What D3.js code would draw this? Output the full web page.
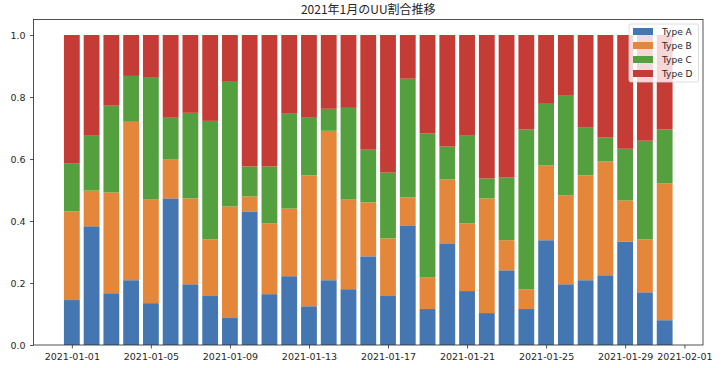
<!DOCTYPE html>
<html>
<head>
<meta charset="utf-8">
<script src="https://cdn.jsdelivr.net/npm/d3@7"></script>
<style>
  body { margin: 0; background: #fff; }
  svg text { font-family: "Noto Sans CJK JP", "DejaVu Sans", sans-serif; fill: #262626; }
  svg .axis text, svg .legend text { font-family: "DejaVu Sans", sans-serif; }
</style>
</head>
<body>
<svg id="chart"></svg>
<script>
/** * * * CONSTANTS * * * */
const width = 722;
const height = 368;
const margin = { top: 19.5, bottom: 23, left: 33.5, right: 19 };

const title = '2021年1月のUU割合推移';
const types = ['Type A', 'Type B', 'Type C', 'Type D'];
const colors = ['#4477b1', '#e5873a', '#54a03f', '#c53b35'];
const yTicks = [0, 0.2, 0.4, 0.6, 0.8, 1.0];
const xTickDates = ['2021-01-01', '2021-01-05', '2021-01-09', '2021-01-13', '2021-01-17',
  '2021-01-21', '2021-01-25', '2021-01-29', '2021-02-01'];

// one entry per day of January
const days = d3.range(1, 32).map(d => '2021-01-' + String(d).padStart(2, '0'));

const typeA = [0.145, 0.383, 0.167, 0.209, 0.135, 0.473, 0.196, 0.158, 0.087, 0.431, 0.164,
  0.222, 0.125, 0.209, 0.180, 0.286, 0.158, 0.386, 0.116, 0.328, 0.174, 0.103, 0.241, 0.116,
  0.338, 0.196, 0.209, 0.225, 0.334, 0.170, 0.080];
const typeB = [0.286, 0.115, 0.325, 0.511, 0.334, 0.125, 0.277, 0.183, 0.360, 0.048, 0.228,
  0.218, 0.422, 0.482, 0.289, 0.174, 0.186, 0.090, 0.103, 0.206, 0.218, 0.370, 0.097, 0.064,
  0.241, 0.286, 0.338, 0.367, 0.132, 0.171, 0.441];
const typeC = [0.154, 0.177, 0.280, 0.148, 0.393, 0.135, 0.276, 0.382, 0.402, 0.097, 0.184,
  0.306, 0.186, 0.071, 0.296, 0.170, 0.212, 0.383, 0.463, 0.106, 0.283, 0.064, 0.202, 0.515,
  0.199, 0.322, 0.154, 0.077, 0.167, 0.318, 0.174];
const typeD = [0.415, 0.325, 0.228, 0.132, 0.138, 0.267, 0.251, 0.277, 0.151, 0.424, 0.424,
  0.254, 0.267, 0.238, 0.235, 0.370, 0.444, 0.141, 0.318, 0.360, 0.325, 0.463, 0.460, 0.305,
  0.222, 0.196, 0.299, 0.331, 0.367, 0.341, 0.305];

const parse = d3.timeParse('%Y-%m-%d');
const DAY = 24 * 3600 * 1000;

// rows for the stack
const rows = days.map((d, i) => ({
  date: parse(d),
  'Type A': typeA[i], 'Type B': typeB[i], 'Type C': typeC[i], 'Type D': typeD[i]
}));
const series = d3.stack().keys(types)(rows);

const svg = d3.select('#chart')
  .attr('width', width)
  .attr('height', height);

// x domain padded like matplotlib's 5% margins
const first = parse(days[0]).getTime();
const last = parse(days[days.length - 1]).getTime();
const pad = (last - first + 0.8 * DAY) * 0.05;
const xScale = d3.scaleTime()
  .domain([new Date(first - 0.4 * DAY - pad), new Date(last + 0.4 * DAY + pad)])
  .range([margin.left, width - margin.right]);

const yScale = d3.scaleLinear()
  .domain([0, 1.05])
  .range([height - margin.bottom, margin.top]);

const barW = xScale(new Date(first + 0.8 * DAY)) - xScale(new Date(first));

// DRAW the bars
svg.append('g').selectAll('g')
  .data(series)
  .enter()
  .append('g')
  .attr('fill', (d, i) => colors[i])
  .selectAll('rect')
  .data(d => d)
  .enter()
  .append('rect')
  .attr('x', d => xScale(d.data.date) - barW / 2)
  .attr('width', barW)
  .attr('y', d => yScale(d[1]))
  .attr('height', d => yScale(d[0]) - yScale(d[1]));

// DRAW the axes
svg.append('g')
  .attr('class', 'x axis')
  .attr('transform', `translate(0,${height - margin.bottom})`)
  .call(d3.axisBottom(xScale)
    .tickValues(xTickDates.map(parse))
    .tickFormat(d3.timeFormat('%Y-%m-%d'))
    .tickSize(3.5)
    .tickPadding(4.5))
  .call(g => g.select('.domain').remove());

svg.append('g')
  .attr('class', 'y axis')
  .attr('transform', `translate(${margin.left},0)`)
  .call(d3.axisLeft(yScale)
    .tickValues(yTicks)
    .tickFormat(d3.format('.1f'))
    .tickSize(3.5)
    .tickPadding(4.5))
  .call(g => g.select('.domain').remove());

svg.selectAll('.axis text')
  .style('font-size', '9.5px')
  .attr('fill', '#262626');
svg.selectAll('.axis line').attr('stroke', '#262626').attr('stroke-width', 0.8);

// frame
svg.append('rect')
  .attr('x', margin.left)
  .attr('y', margin.top)
  .attr('width', width - margin.left - margin.right)
  .attr('height', height - margin.top - margin.bottom)
  .attr('fill', 'none')
  .attr('stroke', '#262626')
  .attr('stroke-width', 0.8);

// title
svg.append('text')
  .attr('x', (margin.left + width - margin.right) / 2)
  .attr('y', 14)
  .attr('text-anchor', 'middle')
  .style('font-size', '12px')
  .text(title);

// legend
const legend = svg.append('g')
  .attr('class', 'legend')
  .attr('transform', 'translate(629,24)');
legend.append('rect')
  .attr('width', 69.5)
  .attr('height', 58)
  .attr('rx', 2)
  .attr('fill', 'white')
  .attr('fill-opacity', 0.8)
  .attr('stroke', '#d6d6d6')
  .attr('stroke-width', 0.8);
types.forEach(function(t, i) {
  legend.append('rect')
    .attr('x', 4)
    .attr('y', 4 + i * 14)
    .attr('width', 20)
    .attr('height', 7)
    .attr('fill', colors[i]);
  legend.append('text')
    .attr('x', 33)
    .attr('y', 11 + i * 14)
    .style('font-size', '9px')
    .text(t);
});
</script>
</body>
</html>
